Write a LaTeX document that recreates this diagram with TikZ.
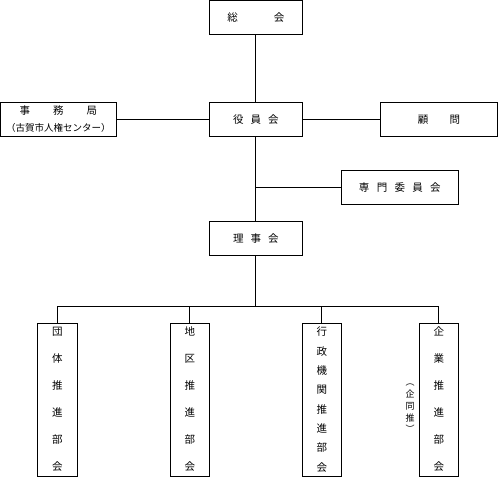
\documentclass[tikz,border=0pt]{standalone}
\usepackage{fontspec}
\newfontfamily\jp{Noto Sans CJK JP}
\begin{document}
\begin{tikzpicture}[x=1pt,y=-1pt,
  box/.style={draw,line width=1pt,inner sep=0pt,align=center,font=\jp\fontsize{10.5}{17}\selectfont},
  vbox/.style={draw,line width=1pt,inner sep=0pt,minimum width=39pt,minimum height=153.2pt},
  vtext/.style={inner sep=0pt,align=center},
  ln/.style={line width=1pt}]
\useasboundingbox (0,0) rectangle (498,477);
% boxes
\node[box,minimum width=93pt,minimum height=33.6pt] (soukai) at (255.8,17.6) {総\hspace{36pt}会};
\node[box,minimum width=93pt,minimum height=34pt] (yakuin) at (255.8,119.3) {役\hspace{7pt}員\hspace{7pt}会};
\node[box,minimum width=115.8pt,minimum height=34pt] (jimu) at (58.4,119.3)
  {事\hspace{23pt}務\hspace{23pt}局\\{\fontsize{9.5}{17}\selectfont （古賀市人権センター）}};
\node[box,minimum width=117pt,minimum height=34pt] (komon) at (439,119.3) {顧\hspace{21.5pt}問};
\node[box,minimum width=117pt,minimum height=34pt] (senmon) at (399.8,187.3)
  {専\hspace{7.3pt}門\hspace{7.3pt}委\hspace{7.3pt}員\hspace{7.3pt}会};
\node[box,minimum width=93pt,minimum height=34pt] (riji) at (255.8,238.3) {理\hspace{7pt}事\hspace{7pt}会};
\node[vbox,minimum width=40pt] (dantai) at (57.3,399.9) {};
\node[vbox] (chiku) at (189.8,399.9) {};
\node[vbox] (gyosei) at (321.8,399.9) {};
\node[vbox] (kigyo) at (438.8,399.9) {};
% vertical texts
\node[vtext,font=\jp\fontsize{10.5}{27}\selectfont] (tdantai) at (57.3,399.5) {団\\体\\推\\進\\部\\会};
\node[vtext,font=\jp\fontsize{10.5}{27}\selectfont] (tchiku) at (189.8,399.5) {地\\区\\推\\進\\部\\会};
\node[vtext,font=\jp\fontsize{10.5}{19.3}\selectfont] (tgyosei) at (321.8,399.5) {行\\政\\機\\関\\推\\進\\部\\会};
\node[vtext,font=\jp\fontsize{10.5}{27}\selectfont] (tkigyo) at (438.8,399.5) {企\\業\\推\\進\\部\\会};
\node[vtext,font=\jp\fontsize{9}{11.7}\selectfont] (tkido) at (410,408.5) {︵\\企\\同\\推\\︶};
% connectors
\coordinate (br) at (255.8,187.3);
\coordinate (bus) at (255.8,306.3);
\draw[ln] (soukai.south) -- (yakuin.north);
\draw[ln] (jimu.east) -- (yakuin.west);
\draw[ln] (yakuin.east) -- (komon.west);
\draw[ln] (yakuin.south) -- (riji.north);
\draw[ln] (br) -- (senmon.west);
\draw[ln] (riji.south) -- (bus);
\draw[ln] (dantai.north) |- (bus) -| (kigyo.north);
\draw[ln] (chiku.north) -- (chiku.north |- bus);
\draw[ln] (gyosei.north) -- (gyosei.north |- bus);
\end{tikzpicture}
\end{document}
